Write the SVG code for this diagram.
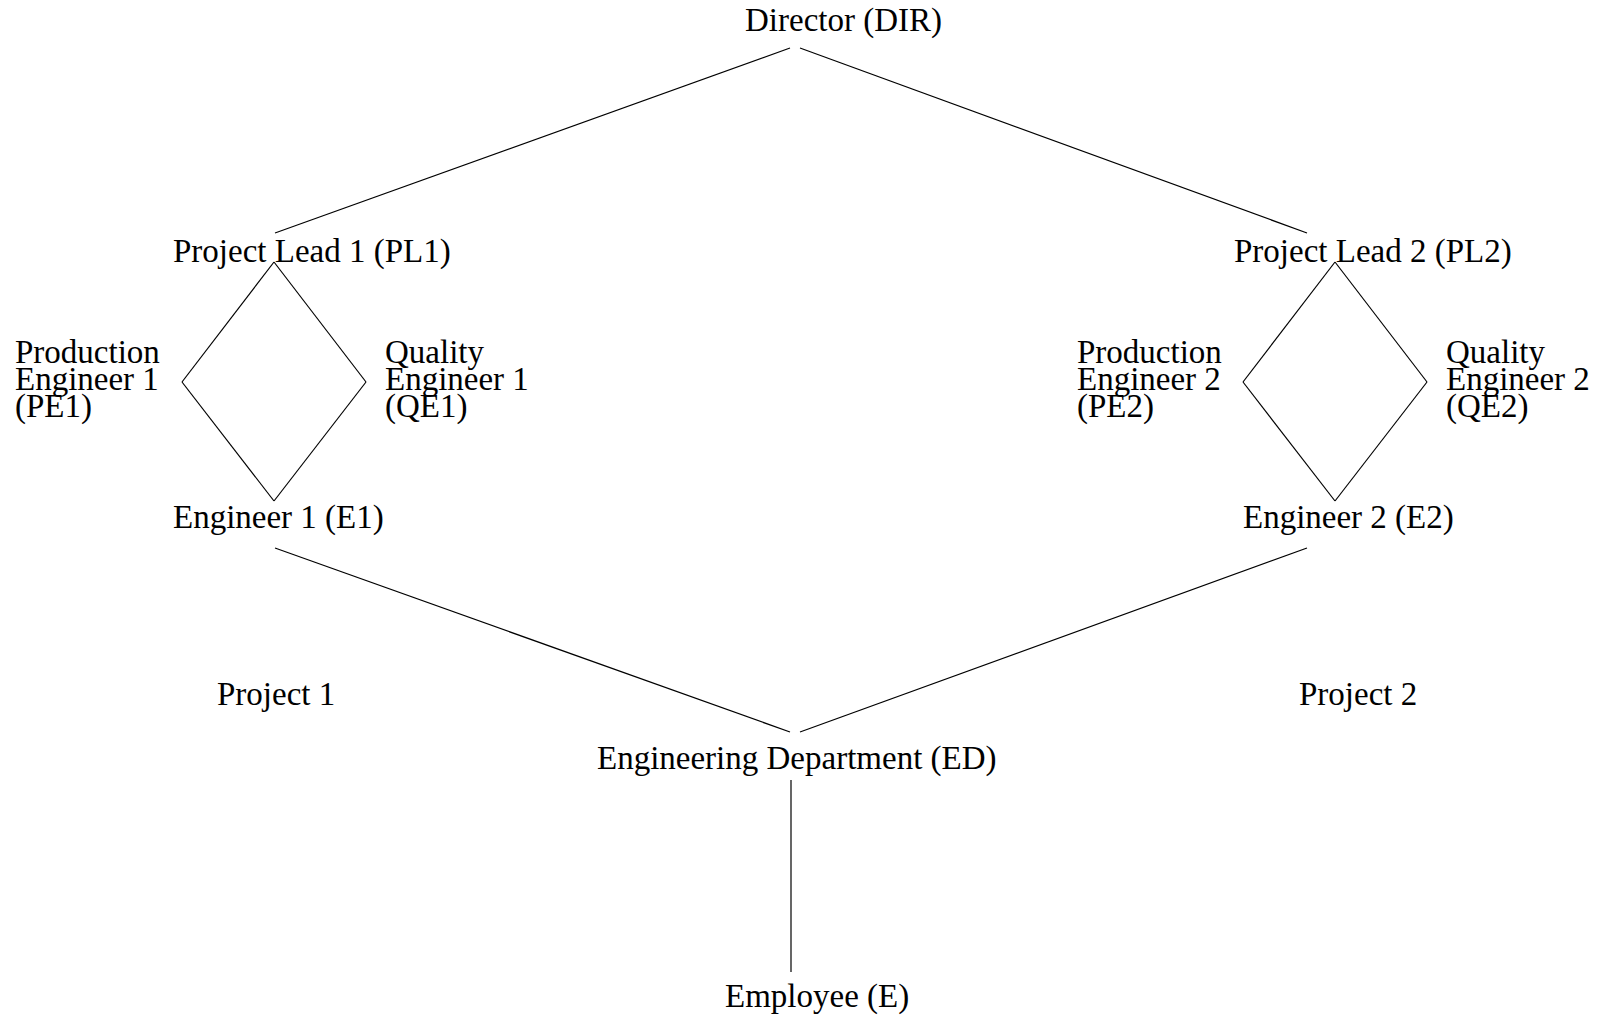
<svg xmlns="http://www.w3.org/2000/svg" width="1604" height="1018" viewBox="0 0 1604 1018">
  <style>
    .lbl { font-family: "Liberation Serif", "Times New Roman", serif; font-size: 33px; fill: #000; }
    .edge { stroke: #000; stroke-width: 1.2; fill: none; }
  </style>
  <rect width="1604" height="1018" fill="#fff"/>

  <!-- reporting lines -->
  <g id="connectors">
    <line class="edge" x1="790" y1="48" x2="275" y2="233"/>
    <line class="edge" x1="800" y1="48" x2="1307" y2="233"/>
    <!-- project 1 diamond -->
    <line class="edge" x1="274" y1="262" x2="182" y2="382"/>
    <line class="edge" x1="274" y1="262" x2="366" y2="382"/>
    <line class="edge" x1="182" y1="382" x2="274" y2="501"/>
    <line class="edge" x1="366" y1="382" x2="274" y2="501"/>
    <!-- project 2 diamond -->
    <line class="edge" x1="1335" y1="262" x2="1243" y2="382"/>
    <line class="edge" x1="1335" y1="262" x2="1427" y2="382"/>
    <line class="edge" x1="1243" y1="382" x2="1335" y2="501"/>
    <line class="edge" x1="1427" y1="382" x2="1335" y2="501"/>
    <!-- engineers to department -->
    <line class="edge" x1="275" y1="548" x2="790" y2="732"/>
    <line class="edge" x1="1307" y1="548" x2="800" y2="732"/>
    <line class="edge" x1="791" y1="780" x2="791" y2="972"/>
  </g>

  <g id="dir"><text class="lbl" x="745" y="31">Director (DIR)</text></g>
  <g id="pl1"><text class="lbl" x="173" y="262">Project Lead 1 (PL1)</text></g>
  <g id="pl2"><text class="lbl" x="1234" y="262">Project Lead 2 (PL2)</text></g>

  <g id="pe1">
    <text class="lbl" x="15" y="363">Production</text>
    <text class="lbl" x="15" y="390">Engineer 1</text>
    <text class="lbl" x="15" y="417">(PE1)</text>
  </g>
  <g id="qe1">
    <text class="lbl" x="385" y="363">Quality</text>
    <text class="lbl" x="385" y="390">Engineer 1</text>
    <text class="lbl" x="385" y="417">(QE1)</text>
  </g>
  <g id="pe2">
    <text class="lbl" x="1077" y="363">Production</text>
    <text class="lbl" x="1077" y="390">Engineer 2</text>
    <text class="lbl" x="1077" y="417">(PE2)</text>
  </g>
  <g id="qe2">
    <text class="lbl" x="1446" y="363">Quality</text>
    <text class="lbl" x="1446" y="390">Engineer 2</text>
    <text class="lbl" x="1446" y="417">(QE2)</text>
  </g>

  <g id="e1"><text class="lbl" x="173" y="528">Engineer 1 (E1)</text></g>
  <g id="e2"><text class="lbl" x="1243" y="528">Engineer 2 (E2)</text></g>

  <g id="project1"><text class="lbl" x="217" y="705">Project 1</text></g>
  <g id="project2"><text class="lbl" x="1299" y="705">Project 2</text></g>

  <g id="ed"><text class="lbl" x="597" y="769">Engineering Department (ED)</text></g>
  <g id="e"><text class="lbl" x="725" y="1007">Employee (E)</text></g>
</svg>
